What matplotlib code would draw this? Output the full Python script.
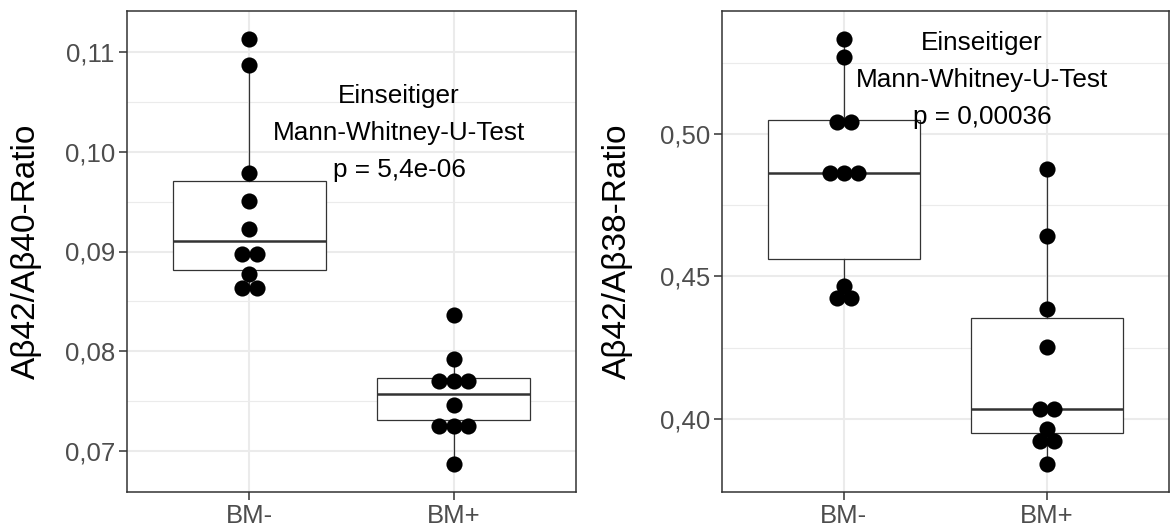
import matplotlib
matplotlib.use("Agg")
from matplotlib import pyplot as plt
import numpy as np

plt.rcParams['font.family'] = ['Liberation Sans', 'DejaVu Sans']

groups = ["BM-", "BM+"]

# dot positions (binned values as drawn in the dotplot)
r40_neg = [0.1113, 0.1087, 0.0979, 0.0951, 0.0923, 0.0897, 0.0897, 0.0877, 0.0863, 0.0863]
r40_pos = [0.0836, 0.0792, 0.0770, 0.0770, 0.0770, 0.0746, 0.0725, 0.0725, 0.0725, 0.0687]
r38_neg = [0.5332, 0.5269, 0.5042, 0.5042, 0.4862, 0.4862, 0.4862, 0.4467, 0.4424, 0.4424]
r38_pos = [0.4876, 0.4642, 0.4385, 0.4253, 0.4033, 0.4033, 0.3964, 0.3921, 0.3921, 0.3843]

# box stats: whislo, q1, median, q3, whishi
box40_neg = [0.0863, 0.0881, 0.0911, 0.0971, 0.1087]
box40_pos = [0.0687, 0.0731, 0.0757, 0.0773, 0.0792]
box38_neg = [0.4424, 0.4561, 0.4862, 0.5049, 0.5332]
box38_pos = [0.3843, 0.3949, 0.4034, 0.4353, 0.4876]

yticks40 = [0.07, 0.08, 0.09, 0.10, 0.11]
yticks38 = [0.40, 0.45, 0.50]

texts = ["Einseitiger\nMann-Whitney-U-Test\np = 5,4e-06",
         "Einseitiger\nMann-Whitney-U-Test\np = 0,00036"]

fig = plt.figure(figsize=(11.7, 5.31), dpi=100)
ax1 = fig.add_axes([127/1170, 1 - 492/531, 449/1170, 481/531])
ax2 = fig.add_axes([722/1170, 1 - 492/531, 447/1170, 481/531])


def dot_x(vals, pos, step=0.07):
    # stack equal values side by side, centred on the group
    vals = np.array(vals)
    xs = np.zeros(len(vals))
    for v in np.unique(vals):
        idx = np.where(vals == v)[0]
        n = len(idx)
        xs[idx] = pos + (np.arange(n) - (n - 1) / 2) * step
    return xs


def panel(ax, neg, pos, bneg, bpos, yticks, ylim, minor, ylabel, txt, txy, labx):
    stats = []
    for b, name in zip([bneg, bpos], groups):
        stats.append(dict(whislo=b[0], q1=b[1], med=b[2], q3=b[3], whishi=b[4], label=name))
    ax.bxp(stats, positions=[1, 2], widths=0.75, showfliers=False, showcaps=False,
           patch_artist=True,
           boxprops=dict(facecolor='white', edgecolor='#333333', linewidth=0.9),
           medianprops=dict(color='#333333', linewidth=1.8),
           whiskerprops=dict(color='#333333', linewidth=0.9), zorder=2)
    for vals, p in [(neg, 1), (pos, 2)]:
        ax.scatter(dot_x(vals, p), vals, s=135, color='black', linewidths=0, zorder=3)

    ax.set_xlim(0.4, 2.6)
    ax.set_ylim(*ylim)
    ax.set_xticks([1, 2])
    ax.set_xticklabels(groups)
    ax.set_yticks(yticks)
    ax.set_yticklabels([("%.2f" % t).replace('.', ',') for t in yticks])
    ax.set_yticks(minor, minor=True)
    ax.set_axisbelow(True)
    ax.grid(True, which='major', color='#EBEBEB', linewidth=1.5)
    ax.grid(True, which='minor', axis='y', color='#EBEBEB', linewidth=0.8)
    ax.tick_params(which='major', length=5.8, width=1.1, color='#333333',
                   labelsize=18.5, labelcolor='#4D4D4D', pad=3)
    ax.tick_params(which='minor', length=0)
    for s in ax.spines.values():
        s.set_color('#333333')
        s.set_linewidth(1.1)
    ax.set_ylabel(ylabel, fontsize=24, color='black')
    ax.yaxis.set_label_coords(labx, 0.5)
    ax.text(txy[0], txy[1], txt, ha='center', va='center', fontsize=18.8,
            linespacing=1.68, color='black', zorder=4)


panel(ax1, r40_neg, r40_pos, box40_neg, box40_pos, yticks40, (0.0659, 0.1141),
      [0.075, 0.085, 0.095, 0.105], "Aβ42/Aβ40-Ratio", texts[0], (1.733, 0.1019), -0.189)
panel(ax2, r38_neg, r38_pos, box38_neg, box38_pos, yticks38, (0.3743, 0.5431),
      [0.425, 0.475, 0.525], "Aβ42/Aβ38-Ratio", texts[1], (1.68, 0.5189), -0.199)

fig.savefig("out.png", dpi=100)
